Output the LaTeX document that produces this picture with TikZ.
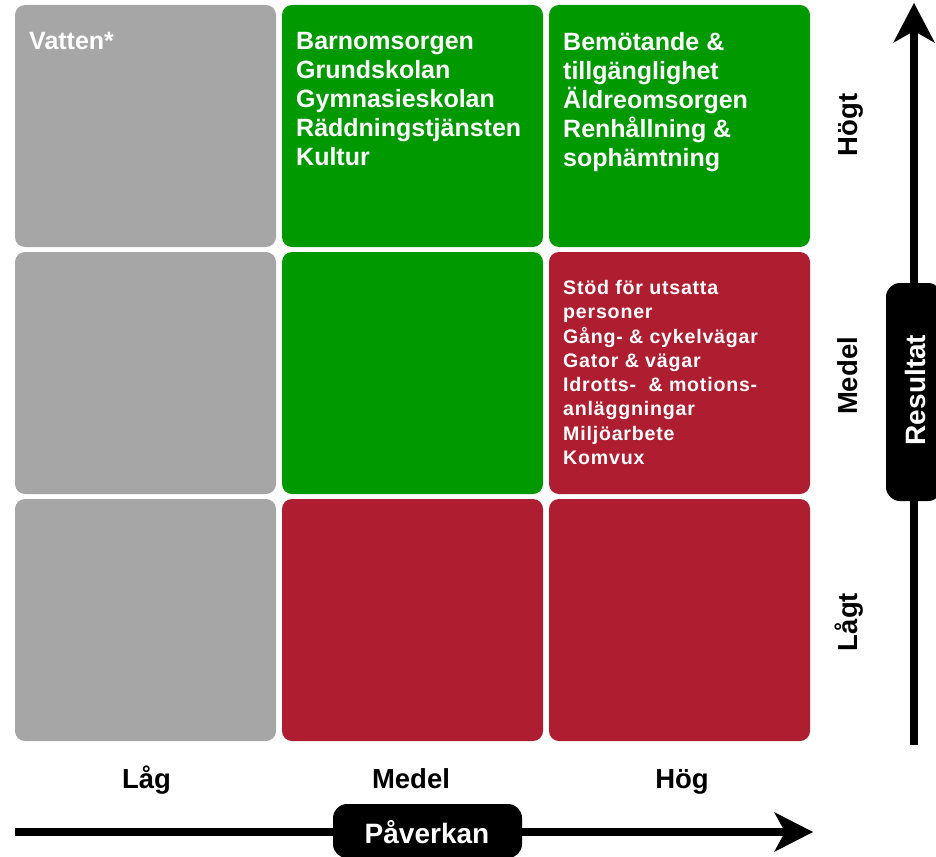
\documentclass[tikz,border=0pt]{standalone}
\usepackage{fontspec}
\setmainfont{Liberation Sans}
\definecolor{cgray}{HTML}{A6A6A6}
\definecolor{cgreen}{HTML}{009900}
\definecolor{cred}{HTML}{AE1E30}
\begin{document}
\begin{tikzpicture}[x=1pt,y=-1pt,
  cell/.style={rounded corners=10pt},
  bigtxt/.style={font=\fontsize{25}{29}\selectfont\bfseries, text=white, align=left, anchor=north west, inner sep=0pt},
  smalltxt/.style={font=\fontsize{19.6}{24.3}\selectfont\bfseries\addfontfeature{LetterSpace=4}, text=white, align=left, anchor=north west, inner sep=0pt},
  axlab/.style={font=\fontsize{27.5}{30}\selectfont\bfseries, text=black, inner sep=0pt},
  pilltxt/.style={font=\fontsize{28}{30}\selectfont\bfseries, text=white, inner sep=0pt},
  axis/.style={line width=8pt},
  head/.style={fill=black}
]
\useasboundingbox (0,0) rectangle (936,856);
% cells
\fill[cgray,cell]  (15,5)   rectangle (276,247);
\fill[cgreen,cell] (282,5)  rectangle (543,247);
\fill[cgreen,cell] (549,5)  rectangle (810,247);
\fill[cgray,cell]  (15,252) rectangle (276,494);
\fill[cgreen,cell] (282,252) rectangle (543,494);
\fill[cred,cell]   (549,252) rectangle (810,494);
\fill[cgray,cell]  (15,499) rectangle (276,741);
\fill[cred,cell]   (282,499) rectangle (543,741);
\fill[cred,cell]   (549,499) rectangle (810,741);
% cell texts
\node[bigtxt] (t11) at (29,32) {Vatten*};
\node[bigtxt] (t12) at (296,32) {Barnomsorgen\\Grundskolan\\Gymnasieskolan\\Räddningstjänsten\\Kultur};
\node[bigtxt] (t13) at (563,32) {Bemötande \&\\tillgänglighet\\Äldreomsorgen\\Renhållning \&\\sophämtning};
\node[smalltxt] (t23) at (563,280) {Stöd för utsatta\\personer\\Gång- \& cykelvägar\\Gator \& vägar\\Idrotts-\ \ \& motions-\\anläggningar\\Miljöarbete\\Komvux};
% axis labels
\node[axlab, anchor=base] (xl1) at (146.5,788) {Låg};
\node[axlab, anchor=base] (xl2) at (411,788) {Medel};
\node[axlab, anchor=base] (xl3) at (682,788) {Hög};
\node[axlab, anchor=base, rotate=90] (yl1) at (857,125) {Högt};
\node[axlab, anchor=base, rotate=90] (yl2) at (857,376) {Medel};
\node[axlab, anchor=base, rotate=90] (yl3) at (857,622) {Lågt};
% vertical axis
\coordinate (vb) at (914,745);
\coordinate (vn) at (914,30);
\draw[axis] (vb) -- (vn);
\fill[head] (914,3) -- (935,43) -- (914,31) -- (893,43) -- cycle;
\node[fill=black, rounded corners=14pt, minimum width=56pt, minimum height=218pt, inner sep=0pt] (res) at (914,392) {};
\node[pilltxt, rotate=90, anchor=base] at (925,390) {Resultat};
% horizontal axis
\coordinate (ha) at (15,832);
\coordinate (hn) at (786,832);
\draw[axis] (ha) -- (hn);
\fill[head] (813,832) -- (774,852) -- (785,832) -- (774,812) -- cycle;
\node[fill=black, rounded corners=14pt, minimum width=189pt, minimum height=54pt, inner sep=0pt] (pav) at (427.5,831) {};
\node[pilltxt, anchor=base] at (427,843) {Påverkan};
\end{tikzpicture}
\end{document}
